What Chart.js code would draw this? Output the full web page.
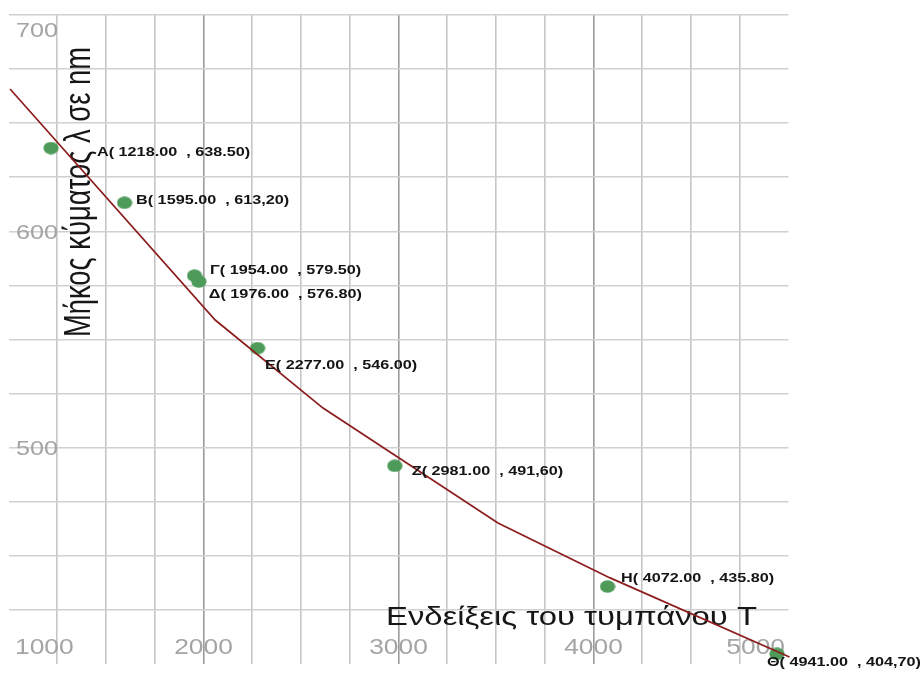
<!DOCTYPE html>
<html lang="el">
<head>
<meta charset="utf-8">
<title>Μήκος κύματος – Ενδείξεις τυμπάνου</title>
<script src="https://cdn.jsdelivr.net/npm/chart.js@4.4.1/dist/chart.umd.min.js"></script>
<style>
  html, body { margin: 0; padding: 0; background: #ffffff; }
  canvas { display: block; }
</style>
</head>
<body>
<canvas id="chart" width="920" height="679"></canvas>
<script>
// Measured points: drum reading T and wavelength λ (nm)
const pointNames = ['Α', 'Β', 'Γ', 'Δ', 'Ε', 'Ζ', 'Η', 'Θ'];
const pointX = [1218, 1595, 1954, 1976, 2277, 2981, 4072, 4941];
const pointY = [638.5, 613.2, 579.5, 576.8, 546.0, 491.6, 435.8, 404.7];
// decimal mark used when each wavelength was written down
const yDecimalMark = ['.', ',', '.', '.', '.', ',', '.', ','];

// Hand-drawn calibration curve (vertices of the polyline)
const curveX = [1008, 2060, 2613, 3510, 4085, 5005];
const curveY = [665.8, 559.0, 518.3, 465.2, 439.8, 403.2];

// Axis labels
const xTickLabels = [1000, 2000, 3000, 4000, 5000];
const yTickLabels = [500, 600, 700];
const xTitle = 'Ενδείξεις του τυμπάνου Τ';
const yTitle = 'Μήκος κύματος λ σε nm';

// label placement next to each point: [dx to text start, dy to baseline]
const labelNudge = [[46, 8], [11.5, 1.5], [15.5, -1.5], [10, 16.5], [7.5, 21], [17, 9], [13.5, -4.5], [-10, 12]];

const TEXT_STRETCH = 1.2;
const FONT = '"Liberation Sans", Arial, Helvetica, sans-serif';

function pointLabel(i) {
  const xs = pointX[i].toFixed(2);
  const ys = pointY[i].toFixed(2).replace('.', yDecimalMark[i]);
  return pointNames[i] + '( ' + xs + '  , ' + ys + ')';
}

// slightly wide lettering, as on the original sheet
function wideText(ctx, text, x, y, align, stretch) {
  ctx.save();
  ctx.translate(x, y);
  ctx.scale(stretch, 1);
  ctx.textAlign = align;
  ctx.textBaseline = 'alphabetic';
  ctx.fillText(text, 0, 0);
  ctx.restore();
}

// text fitted into a box: given length along the text and cap height
function boxedText(ctx, text, x, y, length, capHeight, rotate) {
  const size = capHeight / 0.716;
  ctx.save();
  ctx.font = size + 'px ' + FONT;
  const w = ctx.measureText(text).width;
  ctx.translate(x, y);
  if (rotate) ctx.rotate(-Math.PI / 2);
  ctx.scale(length / w, 1);
  ctx.textAlign = 'left';
  ctx.textBaseline = 'alphabetic';
  ctx.fillText(text, 0, 0);
  ctx.restore();
}

// elliptical green marker
const marker = document.createElement('canvas');
marker.width = 16; marker.height = 13;
(function () {
  const m = marker.getContext('2d');
  m.fillStyle = '#4e9a59';
  m.beginPath();
  m.ellipse(8, 6.5, 7.6, 6.2, 0, 0, Math.PI * 2);
  m.fill();
})();

const sheetText = {
  id: 'sheetText',
  beforeDatasetsDraw(chart) {
    const ctx = chart.ctx;
    const area = chart.chartArea;
    const xs = chart.scales.x, ys = chart.scales.y;
    ctx.save();
    // tick numbers
    ctx.fillStyle = '#a4a4a4';
    ctx.font = '22px ' + FONT;
    xTickLabels.forEach((v, i) => {
      const px = xs.getPixelForValue(v);
      const by = area.bottom - 10;
      if (i === 0) wideText(ctx, String(v), px + 6.5, by, 'left', TEXT_STRETCH);
      else if (i === xTickLabels.length - 1) wideText(ctx, String(v), px - 3.5, by, 'right', TEXT_STRETCH);
      else wideText(ctx, String(v), px, by, 'center', TEXT_STRETCH);
    });
    ctx.font = '21px ' + FONT;
    yTickLabels.forEach(v => {
      const py = ys.getPixelForValue(v);
      const by = Math.max(py + 7.5, area.top + 22);
      wideText(ctx, String(v), area.left + 49.5, by, 'right', TEXT_STRETCH);
    });
    // axis titles written on the sheet
    ctx.fillStyle = '#161616';
    boxedText(ctx, xTitle, area.left + 377.5, area.bottom - 39, 371, 18, false);
    boxedText(ctx, yTitle, area.left + 81.5, area.top + 322, 290, 26.5, true);
    ctx.restore();
  },
  afterDatasetsDraw(chart) {
    const ctx = chart.ctx;
    const xs = chart.scales.x, ys = chart.scales.y;
    ctx.save();
    ctx.fillStyle = '#141414';
    ctx.font = 'bold 13.5px ' + FONT;
    pointX.forEach((v, i) => {
      const px = xs.getPixelForValue(v);
      const py = ys.getPixelForValue(pointY[i]);
      wideText(ctx, pointLabel(i), px + labelNudge[i][0], py + labelNudge[i][1], 'left', TEXT_STRETCH);
    });
    ctx.restore();
  }
};

new Chart(document.getElementById('chart'), {
  type: 'scatter',
  data: {
    datasets: [
      {
        type: 'line',
        label: 'Καμπύλη',
        data: curveX.map((x, i) => ({ x, y: curveY[i] })),
        borderColor: '#8c1d1d',
        borderWidth: 1.7,
        pointRadius: 0,
        tension: 0,
        fill: false,
        clip: false,
        order: 0
      },
      {
        label: 'Μετρήσεις',
        data: pointX.map((x, i) => ({ x, y: pointY[i] })),
        pointStyle: marker,
        pointRadius: 7,
        order: 1
      }
    ]
  },
  options: {
    responsive: false,
    animation: false,
    devicePixelRatio: 1,
    layout: { padding: { left: 8.5, right: 131.5, top: 15, bottom: 15 } },
    plugins: { legend: { display: false }, tooltip: { enabled: false } },
    scales: {
      x: {
        type: 'linear',
        min: 1000,
        max: 5000,
        border: { display: false },
        ticks: { stepSize: 250, display: false },
        grid: {
          drawTicks: false,
          lineWidth: 1.6,
          color: c => {
            const v = c.tick ? c.tick.value : 0;
            if (v === 1000 || v === 5000) return 'rgba(0,0,0,0)';
            return v % 1000 === 0 ? '#9b9b9b' : '#c6c6c6';
          }
        }
      },
      y: {
        min: 400,
        max: 700,
        border: { display: false },
        ticks: { stepSize: 25, display: false },
        grid: {
          drawTicks: false,
          lineWidth: 1.6,
          color: c => (c.tick && c.tick.value === 400) ? 'rgba(0,0,0,0)' : '#d0d0d0'
        }
      }
    }
  },
  plugins: [sheetText]
});
</script>
</body>
</html>
